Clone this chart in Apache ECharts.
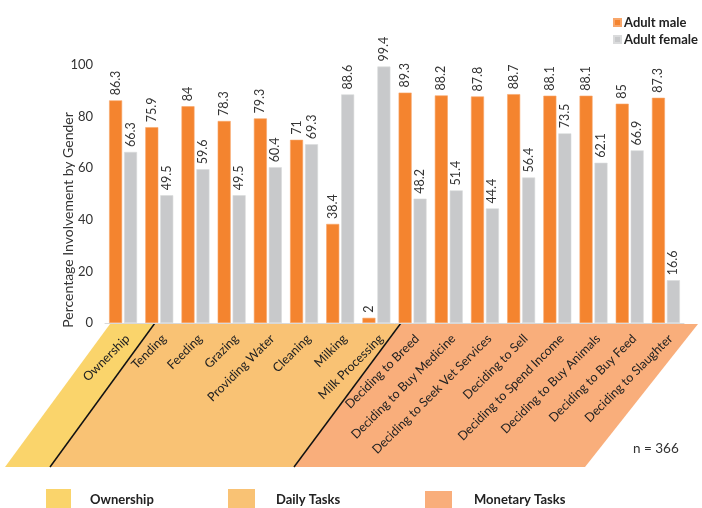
<!DOCTYPE html>
<html>
<head>
<meta charset="utf-8">
<script src="https://cdn.jsdelivr.net/npm/echarts@6/dist/echarts.min.js"></script>
<style>
  html, body { margin: 0; padding: 0; background: #fff; }
  #chart { width: 702px; height: 508px; }
</style>
</head>
<body>
<div id="chart"></div>
<script>
// Livestock activities, grouped as ownership, daily tasks and monetary decisions
const categories = [
  'Ownership', 'Tending', 'Feeding', 'Grazing', 'Providing Water', 'Cleaning',
  'Milking', 'Milk Processing', 'Deciding to Breed', 'Deciding to Buy Medicine',
  'Deciding to Seek Vet Services', 'Deciding to Sell', 'Deciding to Spend Income',
  'Deciding to Buy Animals', 'Deciding to Buy Feed', 'Deciding to Slaughter'
];
const adultMale = [86.3, 75.9, 84, 78.3, 79.3, 71, 38.4, 2, 89.3, 88.2, 87.8, 88.7, 88.1, 88.1, 85, 87.3];
const adultFemale = [66.3, 49.5, 59.6, 49.5, 60.4, 69.3, 88.6, 99.4, 48.2, 51.4, 44.4, 56.4, 73.5, 62.1, 66.9, 16.6];
const yTicks = [0, 20, 40, 60, 80, 100];
const groupNames = ['Ownership', 'Daily Tasks', 'Monetary Tasks'];

const FONT = 'Lato, "Open Sans", sans-serif';
const ORANGE = '#F4842F';
const GREY = '#C8C9CB';
const GROUP_COLORS = ['#FAD46B', '#F9C274', '#F9AE7B'];

const chart = echarts.init(document.getElementById('chart'));

const barLabel = {
  show: true,
  position: 'top',
  rotate: 90,
  align: 'left',
  verticalAlign: 'middle',
  distance: 5,
  color: '#333',
  fontFamily: FONT,
  fontSize: 12.5
};

// Slanted bands behind the category labels
const bands = [
  [[110, 324], [155, 324], [50, 467], [5, 467]],
  [[155, 324], [401, 324], [294, 467], [50, 467]],
  [[401, 324], [698, 324], [585, 467], [294, 467]]
];
const graphics = [];
bands.forEach((pts, i) => {
  graphics.push({
    type: 'polygon', z: -1, silent: true,
    shape: { points: pts },
    style: { fill: GROUP_COLORS[i] }
  });
});
[[155, 323, 50, 467], [401, 323, 294, 467]].forEach(l => {
  graphics.push({
    type: 'line', z: 0, silent: true,
    shape: { x1: l[0], y1: l[1], x2: l[2], y2: l[3] },
    style: { stroke: '#111', lineWidth: 1.5 }
  });
});

// Axis title
graphics.push({
  type: 'text', x: 68, y: 220, silent: true,
  rotation: Math.PI / 2,
  style: {
    text: 'Percentage Involvement by Gender',
    fill: '#333', font: '14px ' + FONT,
    textAlign: 'center', textVerticalAlign: 'middle'
  }
});

// Sample size note
graphics.push({
  type: 'text', x: 633, y: 449, silent: true,
  style: { text: 'n = 366', fill: '#333', font: '13.5px ' + FONT, textVerticalAlign: 'middle' }
});

// Group legend along the bottom
const groupLegend = [
  { x: 46, w: 25, y: 489, tx: 90 },
  { x: 228, w: 27, y: 489, tx: 276 },
  { x: 425, w: 27, y: 491, tx: 474 }
];
groupLegend.forEach((g, i) => {
  graphics.push({
    type: 'rect', silent: true,
    shape: { x: g.x, y: g.y, width: g.w, height: 20 },
    style: { fill: GROUP_COLORS[i] }
  });
  graphics.push({
    type: 'text', silent: true, x: g.tx, y: 500,
    style: {
      text: groupNames[i], fill: '#222',
      font: 'bold 13px ' + FONT, textVerticalAlign: 'middle'
    }
  });
});

chart.setOption({
  animation: false,
  backgroundColor: '#fff',
  textStyle: { fontFamily: FONT },
  grid: { left: 105, right: 18, top: 65, bottom: 185, containLabel: false },
  legend: {
    orient: 'vertical',
    left: 608, top: 11,
    itemWidth: 7, itemHeight: 7, itemGap: 4,
    icon: 'rect',
    textStyle: { color: '#222', fontWeight: 'bold', fontSize: 13, fontFamily: FONT, padding: [0, 0, 0, -2] },
    data: ['Adult male', 'Adult female']
  },
  xAxis: {
    type: 'category',
    data: categories,
    axisLine: { show: true, lineStyle: { color: '#D9D9D9', width: 1 } },
    axisTick: { show: false },
    axisLabel: {
      interval: 0, rotate: 45, margin: 9,
      verticalAlign: 'top',
      color: '#222', fontSize: 12.5, fontFamily: FONT
    },
    z: 5
  },
  yAxis: {
    type: 'value',
    min: yTicks[0], max: yTicks[yTicks.length - 1], interval: 20,
    axisLine: { show: false },
    axisTick: { show: false },
    splitLine: { show: false },
    axisLabel: { color: '#333', fontSize: 13, fontFamily: FONT, margin: 12 }
  },
  graphic: graphics,
  series: [
    {
      name: 'Adult male', type: 'bar', data: adultMale,
      barWidth: 13, barGap: '15%',
      itemStyle: { color: ORANGE, borderColor: '#F8A66A', borderWidth: 0.6 },
      label: barLabel
    },
    {
      name: 'Adult female', type: 'bar', data: adultFemale,
      barWidth: 13,
      itemStyle: { color: GREY, borderColor: '#DADBDC', borderWidth: 0.6 },
      label: barLabel
    }
  ]
});
</script>
</body>
</html>
